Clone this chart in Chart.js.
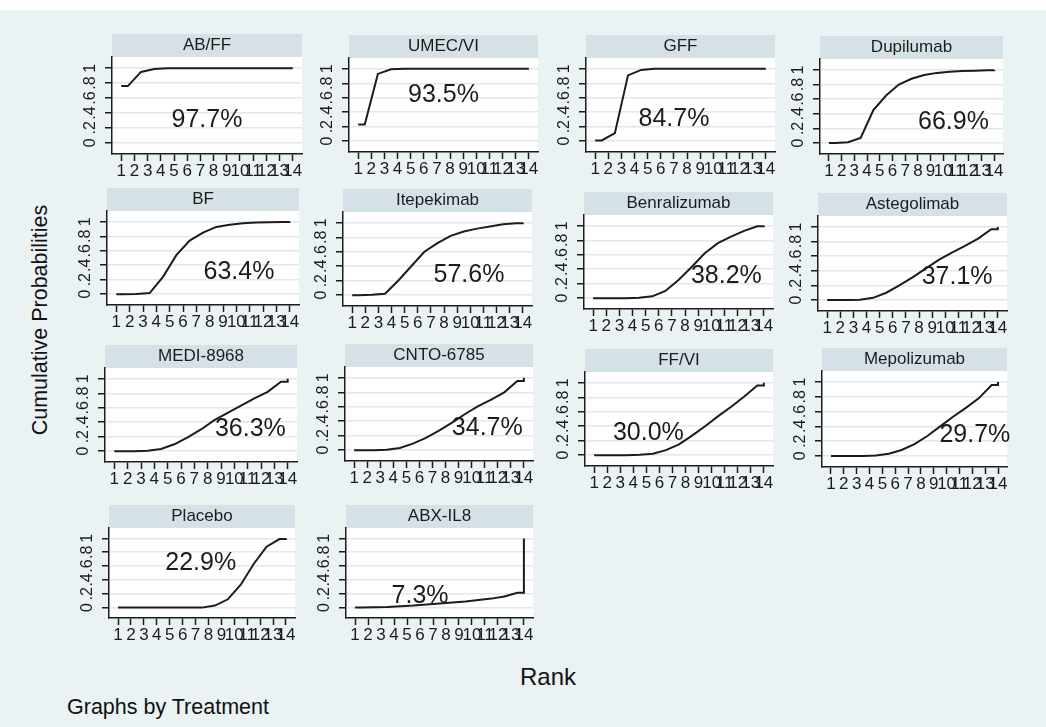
<!DOCTYPE html>
<html>
<head>
<meta charset="utf-8">
<title>Cumulative rank probabilities by treatment</title>
<script src="https://cdn.jsdelivr.net/npm/chart.js@4.4.1/dist/chart.umd.min.js"></script>
<style>
  html, body { margin: 0; padding: 0; background: #fff; }
  #figure {
    position: relative; width: 1046px; height: 727px; overflow: hidden;
    background: #eaf2f3; color: #111;
    font-family: 'Liberation Sans', Arial, sans-serif;
  }
  #topband { position: absolute; left: 0; top: 0; width: 1046px; height: 10px; background: #fff; }
  #figure canvas { position: absolute; }
  .label { position: absolute; white-space: nowrap; line-height: 1; }
  #ytitle { left: 41px; top: 320px; transform: translate(-50%, -50%) rotate(-90deg); font-size: 21.5px; }
  #xtitle { left: 548px; top: 677px; transform: translate(-50%, -50%); font-size: 24px; }
  #note { left: 67px; top: 708px; transform: translateY(-50%); font-size: 21.5px; }
</style>
</head>
<body>
<div id="figure">
  <div id="topband"></div>
  <div class="label" id="ytitle">Cumulative Probabilities</div>
  <div class="label" id="xtitle">Rank</div>
  <div class="label" id="note">Graphs by Treatment</div>
</div>

<script>
'use strict';

// ******* DATA *******
const treatments = [
  'AB/FF', 'UMEC/VI', 'GFF', 'Dupilumab',
  'BF', 'Itepekimab', 'Benralizumab', 'Astegolimab',
  'MEDI-8968', 'CNTO-6785', 'FF/VI', 'Mepolizumab',
  'Placebo', 'ABX-IL8'
];

// SUCRA, %
const sucra = [97.7, 93.5, 84.7, 66.9, 63.4, 57.6, 38.2, 37.1, 36.3, 34.7, 30.0, 29.7, 22.9, 7.3];

const ranks = [1, 2, 3, 4, 5, 6, 7, 8, 9, 10, 11, 12, 13, 14];
const probTicks = [0, 0.2, 0.4, 0.6, 0.8, 1];
const probTickLabels = ['0', '.2', '.4', '.6', '.8', '1'];

// cumulative probability of being ranked r or better, r = 1..14
const cumABFF = [0.76, 0.95, 0.99, 1, 1, 1, 1, 1, 1, 1, 1, 1, 1, 1];
const cumUMECVI = [0.23, 0.93, 0.995, 1, 1, 1, 1, 1, 1, 1, 1, 1, 1, 1];
const cumGFF = [0.01, 0.11, 0.91, 0.985, 1, 1, 1, 1, 1, 1, 1, 1, 1, 1];
const cumDupilumab = [0, 0.01, 0.07, 0.45, 0.65, 0.80, 0.88, 0.93, 0.96, 0.975, 0.985, 0.99, 0.997, 1];
const cumBF = [0, 0.003, 0.015, 0.24, 0.54, 0.74, 0.85, 0.93, 0.96, 0.98, 0.99, 0.995, 0.998, 1];
const cumItepekimab = [0, 0.005, 0.02, 0.20, 0.40, 0.60, 0.72, 0.82, 0.88, 0.92, 0.95, 0.98, 0.995, 1];
const cumBenralizumab = [0, 0, 0, 0.005, 0.025, 0.10, 0.25, 0.43, 0.62, 0.76, 0.85, 0.93, 0.995, 1];
const cumAstegolimab = [0, 0, 0.005, 0.03, 0.10, 0.20, 0.31, 0.43, 0.55, 0.65, 0.74, 0.84, 0.97, 1];
const cumMEDI8968 = [0, 0, 0.005, 0.03, 0.095, 0.19, 0.30, 0.43, 0.53, 0.63, 0.73, 0.82, 0.96, 1];
const cumCNTO6785 = [0, 0, 0.005, 0.03, 0.09, 0.17, 0.27, 0.38, 0.50, 0.61, 0.70, 0.80, 0.955, 1];
const cumFFVI = [0, 0, 0, 0.005, 0.02, 0.07, 0.15, 0.27, 0.40, 0.54, 0.67, 0.81, 0.965, 1];
const cumMepolizumab = [0, 0, 0, 0.005, 0.03, 0.08, 0.16, 0.27, 0.40, 0.53, 0.65, 0.78, 0.96, 1];
const cumPlacebo = [0, 0, 0, 0, 0, 0, 0, 0.03, 0.12, 0.33, 0.63, 0.88, 0.99, 1];
const cumABXIL8 = [0, 0.005, 0.01, 0.02, 0.03, 0.045, 0.06, 0.075, 0.09, 0.11, 0.13, 0.16, 0.215, 1];

const cumByTreatment = [
  cumABFF, cumUMECVI, cumGFF, cumDupilumab,
  cumBF, cumItepekimab, cumBenralizumab, cumAstegolimab,
  cumMEDI8968, cumCNTO6785, cumFFVI, cumMepolizumab,
  cumPlacebo, cumABXIL8
];

// ******* LAYOUT *******
// plot box of each panel on the page: [left, titleTop, right, axisBottom]
const panelBoxes = [
  [112, 34, 302, 154], [349, 35, 538, 152], [586, 35, 775, 152], [820, 36, 1003, 154],
  [107, 188, 299, 305], [343, 189, 532, 306], [584, 192, 773, 309], [818, 193, 1007, 311],
  [105, 345, 297, 462], [345, 344, 533, 461], [585, 349, 773, 466], [822, 348, 1007, 467],
  [109, 505, 295, 618], [346, 505, 533, 618]
];

// where the SUCRA text sits, in (rank, probability) units
const sucraLabelAt = [
  [7.5, 0.30], [7.5, 0.64], [7.0, 0.30], [10.8, 0.28],
  [10.2, 0.30], [9.9, 0.28], [11.15, 0.30], [10.9, 0.32],
  [11.2, 0.31], [11.2, 0.30], [5.15, 0.30], [12.2, 0.28],
  [7.4, 0.64], [6.0, 0.17]
];

const AXIS_W = 40;
const AXIS_H = 30;
const PAD_RIGHT = 12;
const TITLE_H = 23;
const FONT = "'Liberation Sans', Arial, sans-serif";
const INK = '#1c1c1c';

let figure = document.getElementById('figure');

// ****** HELPERS ******

// the curve holds each rank's value over half a step, then jumps to 1 at the last rank
function stepPoints(cum) {
  let pts = [{ x: ranks[0], y: cum[0] }];
  for (let i = 0; i < cum.length - 1; i++) {
    pts.push({ x: ranks[i] + 0.5, y: cum[i] });
  }
  let last = ranks[ranks.length - 1];
  pts.push({ x: last, y: cum[cum.length - 2] });
  pts.push({ x: last, y: cum[cum.length - 1] });
  return pts;
}

// grey band behind the panel title, white plot region
const panelBackground = {
  id: 'panelBackground',
  beforeDraw(chart) {
    let { ctx, chartArea: a } = chart;
    ctx.save();
    ctx.fillStyle = '#d5e1e6';
    ctx.fillRect(a.left, 0, a.right - a.left, a.top);
    ctx.fillStyle = '#ffffff';
    ctx.fillRect(a.left, a.top, a.right - a.left, a.bottom - a.top);
    ctx.restore();
  }
};

// SUCRA value written inside the plot
const sucraText = {
  id: 'sucraText',
  afterDatasetsDraw(chart, args, opts) {
    let { ctx, scales } = chart;
    ctx.save();
    ctx.font = '25px ' + FONT;
    ctx.fillStyle = INK;
    ctx.textAlign = 'center';
    ctx.textBaseline = 'middle';
    ctx.fillText(opts.text, scales.x.getPixelForValue(opts.at[0]), scales.y.getPixelForValue(opts.at[1]));
    ctx.restore();
  }
};

function renderPanel(i) {
  let [left, top, right, bottom] = panelBoxes[i];
  let canvas = document.createElement('canvas');
  canvas.width = (right - left) + AXIS_W + PAD_RIGHT;
  canvas.height = (bottom - top) + AXIS_H;
  canvas.style.left = (left - AXIS_W) + 'px';
  canvas.style.top = top + 'px';
  figure.appendChild(canvas);

  new Chart(canvas, {
    type: 'line',
    data: {
      datasets: [{
        data: stepPoints(cumByTreatment[i]),
        borderColor: INK,
        borderWidth: 2,
        pointRadius: 0,
        tension: 0,
        fill: false
      }]
    },
    options: {
      responsive: false,
      animation: false,
      devicePixelRatio: 1,
      layout: { padding: { right: PAD_RIGHT } },
      scales: {
        x: {
          type: 'linear',
          min: 0.3,
          max: 14.7,
          afterBuildTicks: (scale) => { scale.ticks = ranks.map(v => ({ value: v })); },
          afterFit: (scale) => { scale.height = AXIS_H; },
          grid: { drawOnChartArea: false, tickLength: 7, tickColor: INK, tickWidth: 1.5 },
          border: { color: INK, width: 1.5 },
          ticks: {
            autoSkip: false, minRotation: 0, maxRotation: 0, padding: 0,
            color: INK, font: { family: FONT, size: 17 },
            callback: (v) => String(v)
          }
        },
        y: {
          min: -0.15,
          max: 1.15,
          afterBuildTicks: (scale) => { scale.ticks = probTicks.map(v => ({ value: v })); },
          afterFit: (scale) => { scale.width = AXIS_W; },
          grid: { color: '#dfe8ec', lineWidth: 1.5, tickLength: 7, tickColor: INK, tickWidth: 1.5 },
          border: { color: INK, width: 1.5 },
          ticks: {
            minRotation: 90, maxRotation: 90, crossAlign: 'center', padding: 8,
            color: INK, font: { family: FONT, size: 16 },
            callback: (v, idx) => probTickLabels[idx]
          }
        }
      },
      plugins: {
        legend: { display: false },
        tooltip: { enabled: false },
        title: {
          display: true,
          text: treatments[i],
          fullSize: false,
          color: INK,
          font: { family: FONT, size: 17, weight: 'normal', lineHeight: TITLE_H - 4 + 'px' },
          padding: { top: 2, bottom: 2 }
        },
        sucraText: { text: sucra[i].toFixed(1) + '%', at: sucraLabelAt[i] }
      }
    },
    plugins: [panelBackground, sucraText]
  });
}

// ****** EXECUTABLE CODE ******
for (let i = 0; i < treatments.length; i++) {
  renderPanel(i);
}
</script>
</body>
</html>
